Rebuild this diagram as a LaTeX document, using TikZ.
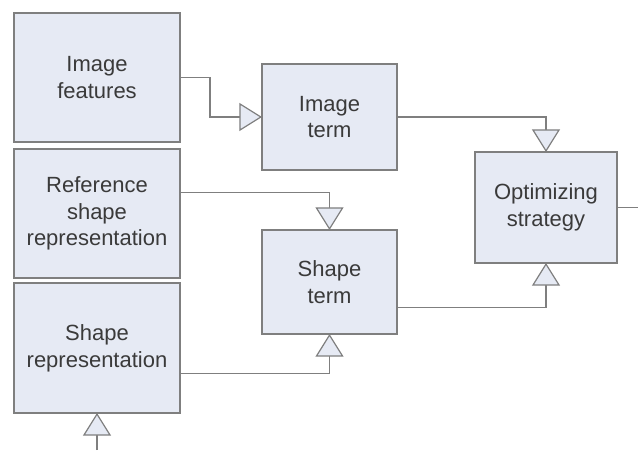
\documentclass[tikz,border=0pt]{standalone}
\usepackage{fontspec}
\setmainfont{Liberation Sans}
\usetikzlibrary{arrows.meta}
\definecolor{boxfill}{HTML}{E6EAF4}
\definecolor{boxline}{HTML}{7F7F7F}
\definecolor{boxtext}{HTML}{3A3A3A}
\tikzset{block/.style={draw=boxline, fill=boxfill, line width=1pt,
    inner sep=0pt, outer sep=0pt, align=center, text=boxtext,
    font=\fontsize{16.5}{20}\selectfont}}
\tikzset{flow/.style={draw=boxline, line width=0.9pt,
    -{Triangle[length=17pt,width=21pt,fill=boxfill,line width=0.9pt]}}}

\begin{document}
\begin{tikzpicture}[x=0.75pt, y=-0.75pt]
   \useasboundingbox (0,0) rectangle (638,450);
   \node[block, minimum width=124.5pt, minimum height=96.75pt] (imgfeat) at (97,77.5) {Image\\features};
   \node[block, minimum width=124.5pt, minimum height=96.75pt] (refshape) at (97,213.5) {Reference\\shape\\representation};
   \node[block, minimum width=124.5pt, minimum height=97.5pt] (shaperep) at (97,348) {Shape\\representation};
   \node[block, minimum width=101.25pt, minimum height=79.5pt] (imgterm) at (329.5,117) {Image\\term};
   \node[block, minimum width=101.25pt, minimum height=78pt] (shapeterm) at (329.5,282) {Shape\\term};
   \node[block, minimum width=106.5pt, minimum height=83.25pt] (optim) at (546,207.5) {Optimizing\\strategy};
   \coordinate (out) at (638,207.5);
   \coordinate (in) at (97,450);
   \draw[flow] (imgfeat.east) -- ++(30,0) |- (imgterm.west);
   \draw[flow] (imgterm.east) -| (optim.north);
   \draw[flow] ([yshift=16pt]refshape.east) -| (shapeterm.north);
   \draw[flow] ([yshift=-19pt]shapeterm.east) -| (optim.south);
   \draw[flow] ([yshift=-19pt]shaperep.east) -| (shapeterm.south);
   \draw[flow] (in) -- (shaperep.south);
   \draw[draw=boxline, line width=0.9pt] (optim.east) -- (out);
\end{tikzpicture}
\end{document}
